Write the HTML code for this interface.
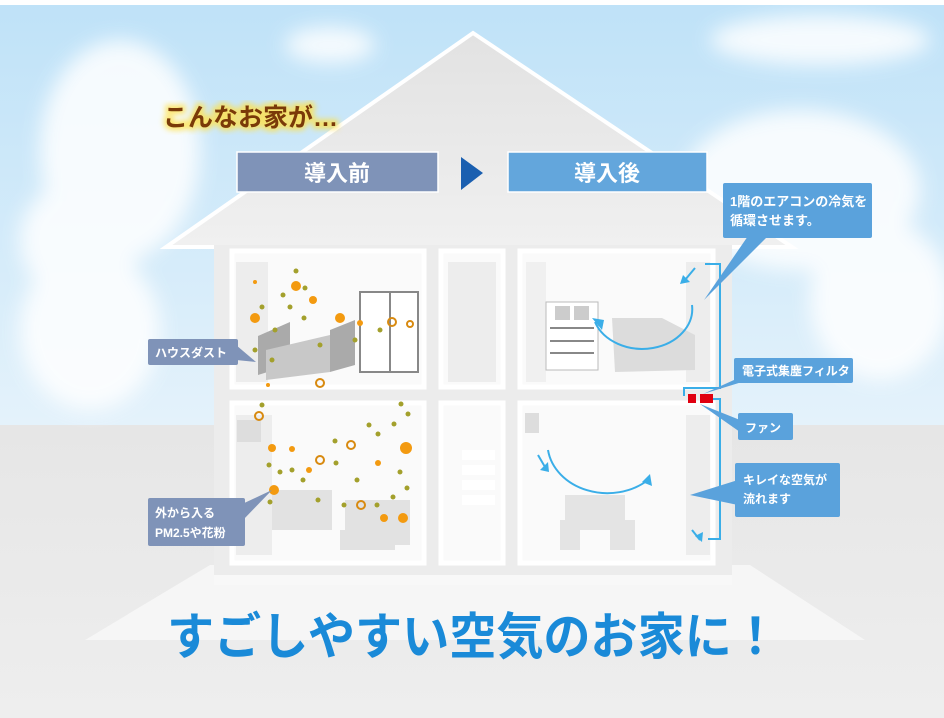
<!DOCTYPE html>
<html><head><meta charset="utf-8"><style>
html,body{margin:0;padding:0;background:#fff}
svg{display:block}
text{font-family:"Liberation Sans","Noto Sans CJK JP",sans-serif;font-weight:bold}
</style></head><body>
<svg width="944" height="718" viewBox="0 0 944 718" xmlns="http://www.w3.org/2000/svg">
<defs>
<linearGradient id="sky" x1="0" y1="0" x2="0" y2="1"><stop offset="0" stop-color="#bfe2f8"/><stop offset="1" stop-color="#e4f2fb"/></linearGradient>
<linearGradient id="gnd" x1="0" y1="0" x2="0" y2="1"><stop offset="0" stop-color="#e6e6e6"/><stop offset="1" stop-color="#eeeeee"/></linearGradient>
<linearGradient id="roof" x1="0" y1="0" x2="0" y2="1"><stop offset="0" stop-color="#e2e2e2"/><stop offset="1" stop-color="#f0f0f0"/></linearGradient>
<filter id="blur"><feGaussianBlur stdDeviation="10"/></filter>
<filter id="glow"><feGaussianBlur stdDeviation="3"/></filter>
</defs>
<rect width="944" height="718" fill="#fff"/>
<rect y="5" width="944" height="420" fill="url(#sky)"/>
<rect y="425" width="944" height="293" fill="url(#gnd)"/>
<g fill="#fff" opacity="0.85" filter="url(#blur)">
<ellipse cx="120" cy="150" rx="80" ry="110"/><ellipse cx="90" cy="330" rx="70" ry="80"/>
<ellipse cx="330" cy="45" rx="45" ry="18"/><ellipse cx="820" cy="40" rx="110" ry="25"/>
<ellipse cx="800" cy="190" rx="120" ry="80"/><ellipse cx="880" cy="300" rx="70" ry="80"/>
<ellipse cx="80" cy="240" rx="60" ry="60"/>
</g>
<polygon points="210,565 750,565 865,640 85,640" fill="#f6f6f6"/>
<polygon points="473,33 792,247 166,247" fill="url(#roof)" stroke="#fff" stroke-width="4"/>
<rect x="214" y="245" width="518" height="335" fill="#ececec"/>
<rect x="214" y="575" width="518" height="10" fill="#f8f8f8"/>
<g fill="#fafafa" stroke="#fff" stroke-width="5">
<rect x="232" y="251" width="192" height="136"/>
<rect x="441" y="251" width="62" height="136"/>
<rect x="520" y="251" width="193" height="136"/>
<rect x="232" y="403" width="192" height="160"/>
<rect x="441" y="403" width="62" height="160"/>
<rect x="520" y="403" width="193" height="160"/>
</g>
<g fill="#ededed">
<rect x="236" y="262" width="32" height="120"/><rect x="526" y="262" width="20" height="120" fill="#f0f0f0"/>
<rect x="236" y="415" width="36" height="140"/><rect x="686" y="262" width="24" height="120"/>
<rect x="686" y="415" width="24" height="140"/><rect x="448" y="262" width="48" height="120"/>
</g>
<rect x="360" y="292" width="58" height="80" fill="#fff" stroke="#888" stroke-width="2"/>
<line x1="390" y1="292" x2="390" y2="372" stroke="#888" stroke-width="2"/>
<polygon points="258,336 290,322 290,365 258,375" fill="#aaa"/>
<polygon points="266,350 330,335 330,372 266,380" fill="#c8c8c8"/>
<polygon points="330,330 355,320 355,365 330,372" fill="#aaa"/>
<g fill="#fff"><rect x="462" y="450" width="33" height="10"/><rect x="462" y="465" width="33" height="10"/><rect x="462" y="480" width="33" height="10"/><rect x="462" y="495" width="33" height="10"/></g>
<rect x="237" y="420" width="24" height="22" fill="#ddd"/>
<g fill="#e2e2e2"><rect x="272" y="490" width="60" height="40"/><rect x="345" y="500" width="65" height="45"/><rect x="340" y="530" width="55" height="20"/></g>
<rect x="546" y="302" width="52" height="68" fill="#fff" stroke="#bbb"/>
<g fill="#888"><rect x="550" y="327" width="44" height="2"/><rect x="550" y="340" width="44" height="2"/><rect x="550" y="352" width="44" height="2"/></g>
<rect x="555" y="306" width="15" height="14" fill="#ccc"/><rect x="574" y="306" width="15" height="14" fill="#ccc"/>
<path d="M612 318 L662 318 L695 335 L695 370 L615 372 Z" fill="#dcdcdc"/>
<rect x="525" y="413" width="14" height="20" fill="#ddd"/>
<g fill="#e4e4e4"><rect x="565" y="495" width="60" height="35"/><rect x="560" y="520" width="20" height="30"/><rect x="610" y="520" width="25" height="30"/></g>
<g stroke="#3aaee8" stroke-width="2" fill="none">
<path d="M692 305 A50 40 0 0 1 595 322"/>
<path d="M548 450 A60 50 0 0 0 648 480"/>
<path d="M705 264 H720 V388 H684 V396"/>
<path d="M712 399 H720 V539 H708"/>
<path d="M695 268 L685 280"/><path d="M538 455 L545 467"/><path d="M692 530 L700 540"/>
</g>
<g fill="#3aaee8">
<polygon points="592,318 602,330 604,320"/><polygon points="650,474 642,482 652,486"/>
<polygon points="683,275 690,282 680,284"/><polygon points="540,470 548,462 549,472"/><polygon points="702,542 695,536 703,532"/>
</g>
<rect x="688" y="394" width="8" height="9" fill="#e00010"/><rect x="700" y="394" width="13" height="9" fill="#e00010"/>
<g fill="#a3a02c">
<circle cx="296" cy="271" r="2.5"/><circle cx="305" cy="288" r="2.5"/><circle cx="283" cy="295" r="2.5"/><circle cx="262" cy="307" r="2.5"/><circle cx="290" cy="307" r="2.5"/><circle cx="304" cy="318" r="2.5"/><circle cx="275" cy="330" r="2.5"/><circle cx="320" cy="345" r="2.5"/><circle cx="355" cy="340" r="2.5"/><circle cx="380" cy="330" r="2.5"/><circle cx="255" cy="350" r="2.5"/><circle cx="272" cy="360" r="2.5"/>
<circle cx="262" cy="405" r="2.5"/><circle cx="401" cy="404" r="2.5"/><circle cx="408" cy="414" r="2.5"/><circle cx="369" cy="425" r="2.5"/><circle cx="394" cy="424" r="2.5"/><circle cx="378" cy="434" r="2.5"/><circle cx="335" cy="441" r="2.5"/><circle cx="269" cy="465" r="2.5"/><circle cx="280" cy="472" r="2.5"/><circle cx="292" cy="470" r="2.5"/><circle cx="303" cy="480" r="2.5"/><circle cx="336" cy="463" r="2.5"/><circle cx="357" cy="480" r="2.5"/><circle cx="400" cy="472" r="2.5"/><circle cx="407" cy="488" r="2.5"/><circle cx="393" cy="497" r="2.5"/><circle cx="377" cy="505" r="2.5"/><circle cx="344" cy="505" r="2.5"/><circle cx="270" cy="502" r="2.5"/><circle cx="318" cy="500" r="2.5"/>
</g>
<g fill="#f39a10">
<circle cx="296" cy="286" r="5"/><circle cx="313" cy="300" r="4"/><circle cx="255" cy="318" r="5"/><circle cx="340" cy="318" r="5"/><circle cx="360" cy="323" r="3"/><circle cx="268" cy="385" r="2"/><circle cx="255" cy="282" r="2"/>
<circle cx="272" cy="448" r="4"/><circle cx="292" cy="449" r="3"/><circle cx="406" cy="448" r="6"/><circle cx="309" cy="470" r="3"/><circle cx="378" cy="463" r="3"/><circle cx="384" cy="518" r="4"/><circle cx="403" cy="518" r="5"/><circle cx="274" cy="490" r="5"/>
</g>
<g fill="none" stroke="#d88a10" stroke-width="2">
<circle cx="392" cy="322" r="4"/><circle cx="320" cy="383" r="4"/><circle cx="259" cy="416" r="4"/><circle cx="351" cy="445" r="4"/><circle cx="320" cy="460" r="4"/><circle cx="361" cy="505" r="4"/><circle cx="410" cy="324" r="3"/>
</g>
<text x="163" y="126" font-size="25" fill="#ffe14a" stroke="#ffe14a" stroke-width="6" filter="url(#glow)" opacity="0.8">こんなお家が…</text>
<text x="163" y="126" font-size="25" fill="#7a3a08">こんなお家が…</text>
<rect x="237" y="152" width="201" height="40" fill="#7f93b8" stroke="#fff" stroke-width="1.5"/>
<text x="337" y="181" font-size="22" fill="#fff" text-anchor="middle">導入前</text>
<polygon points="461,157 483,173 461,190" fill="#1a5fb0"/>
<rect x="508" y="152" width="199" height="40" fill="#63a6dc" stroke="#fff" stroke-width="1.5"/>
<text x="607" y="181" font-size="22" fill="#fff" text-anchor="middle">導入後</text>
<g fill="#5aa2dc">
<rect x="723" y="183" width="149" height="55" rx="2"/><polygon points="748,236 768,236 704,300"/>
<rect x="734" y="358" width="119" height="25" rx="2"/><polygon points="745,375 755,378 703,394"/>
<rect x="738" y="413" width="55" height="27" rx="2"/><polygon points="740,420 740,432 700,404"/>
<rect x="735" y="463" width="105" height="54" rx="2"/><polygon points="738,480 738,505 690,495"/>
</g>
<g fill="#7f93b8">
<rect x="148" y="339" width="90" height="26" rx="2"/><polygon points="236,345 236,360 256,362"/>
<rect x="148" y="498" width="97" height="48" rx="2"/><polygon points="240,505 243,520 272,490"/>
</g>
<g fill="#fff" font-size="12">
<text x="730" y="206" font-size="13">1階のエアコンの冷気を</text><text x="730" y="225" font-size="13">循環させます。</text>
<text x="742" y="375">電子式集塵フィルタ</text>
<text x="745" y="432">ファン</text>
<text x="743" y="484">キレイな空気が</text><text x="743" y="503">流れます</text>
<text x="155" y="357">ハウスダスト</text>
<text x="155" y="517">外から入る</text><text x="155" y="537">PM2.5や花粉</text>
</g>
<text x="167" y="654" font-size="50" fill="#1a8ad8" textLength="612" lengthAdjust="spacingAndGlyphs">すごしやすい空気のお家に！</text>
</svg>
</body></html>
